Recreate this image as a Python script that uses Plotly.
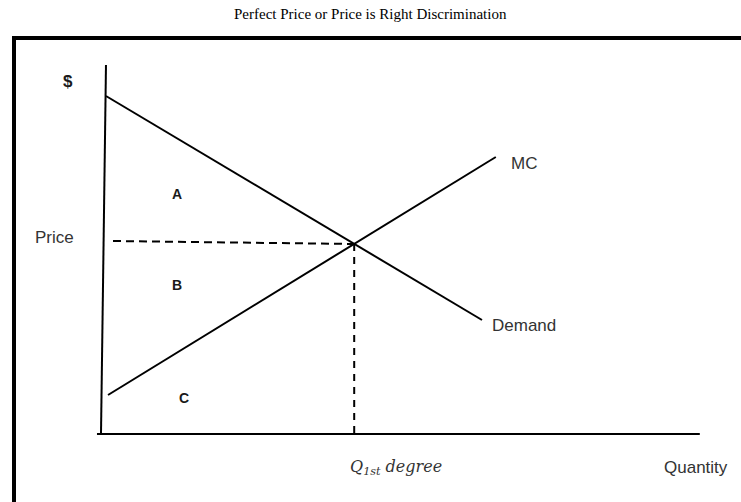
import plotly.graph_objects as go

# Data (quantity, price) in chart units
demand_q = [0.83, 63.5]
demand_p = [84.5, 28.5]
mc_q = [1.17, 65.8]
mc_p = [9.75, 69.25]
yaxis_q = [0.0, 0.83]
yaxis_p = [0.0, 92.25]
xaxis_q = [-0.67, 99.8]
xaxis_p = [0.0, 0.0]
eq_q = 42.2
eq_p = 47.5
price_dash_q = [2.0, eq_q]
price_dash_p = [48.25, eq_p]
qty_dash_q = [eq_q, eq_q]
qty_dash_p = [eq_p, 0.0]

W, H = 741, 502
# pixel mapping: x px = 101 + 6*q ; y px = 434 - 4*p
x_range = [-101 / 6, (W - 101) / 6]
y_range = [-(H - 434) / 4, 434 / 4]

fig = go.Figure()
line = dict(color="black", width=2)
fig.add_trace(go.Scatter(x=yaxis_q, y=yaxis_p, mode="lines", line=line))
fig.add_trace(go.Scatter(x=xaxis_q, y=xaxis_p, mode="lines", line=line))
fig.add_trace(go.Scatter(x=demand_q, y=demand_p, mode="lines", line=line))
fig.add_trace(go.Scatter(x=mc_q, y=mc_p, mode="lines", line=line))
fig.add_trace(go.Scatter(x=price_dash_q, y=price_dash_p, mode="lines",
                         line=dict(color="black", width=2, dash="8px,5px")))
fig.add_trace(go.Scatter(x=qty_dash_q, y=qty_dash_p, mode="lines",
                         line=dict(color="black", width=2, dash="7px,6px")))

sans = "Liberation Sans, Arial, sans-serif"
lab = dict(family=sans, size=17, color="#333333")
bold = dict(family=sans, size=14, color="#1a1a1a")
annots = [
    dict(x=-5.5, y=88.25, text="<b>$</b>", font=dict(family=sans, size=17, color="#1a1a1a")),
    dict(x=-7.75, y=49.1, text="Price", font=lab),
    dict(x=12.67, y=60, text="<b>A</b>", font=bold),
    dict(x=12.67, y=37.25, text="<b>B</b>", font=bold),
    dict(x=13.83, y=9.0, text="<b>C</b>", font=bold),
    dict(x=70.5, y=67.75, text="MC", font=lab),
    dict(x=70.5, y=27.25, text="Demand", font=lab),
    dict(x=49.17, y=-8.25,
         text="<i>Q</i><sub><i>1st</i></sub><i> degree</i>",
         font=dict(family="DejaVu Serif, serif", size=16, color="#333333")),
    dict(x=99.17, y=-8.25, text="Quantity", font=lab),
]
for a in annots:
    fig.add_annotation(xref="x", yref="y", showarrow=False, xanchor="center",
                       yanchor="middle", **a)

fig.add_annotation(xref="paper", yref="paper", x=370 / W, y=1 - 14 / H,
                   text="Perfect Price or Price is Right Discrimination",
                   showarrow=False, xanchor="center", yanchor="middle",
                   font=dict(family="Liberation Serif, Times New Roman, serif",
                             size=15, color="black"))

fig.add_shape(type="rect", xref="paper", yref="paper",
              x0=14 / W, y0=-0.2, x1=1.2, y1=1 - 38 / H,
              line=dict(color="black", width=4), fillcolor="rgba(0,0,0,0)",
              layer="below")

fig.update_layout(
    width=W, height=H, margin=dict(l=0, r=0, t=0, b=0),
    paper_bgcolor="white", plot_bgcolor="white", showlegend=False,
    xaxis=dict(range=x_range, visible=False, fixedrange=True),
    yaxis=dict(range=y_range, visible=False, fixedrange=True),
)
fig.write_html("out.html", config={"displayModeBar": False},
               post_script="document.body.style.margin='0';"
                           "document.body.style.overflow='hidden';")
